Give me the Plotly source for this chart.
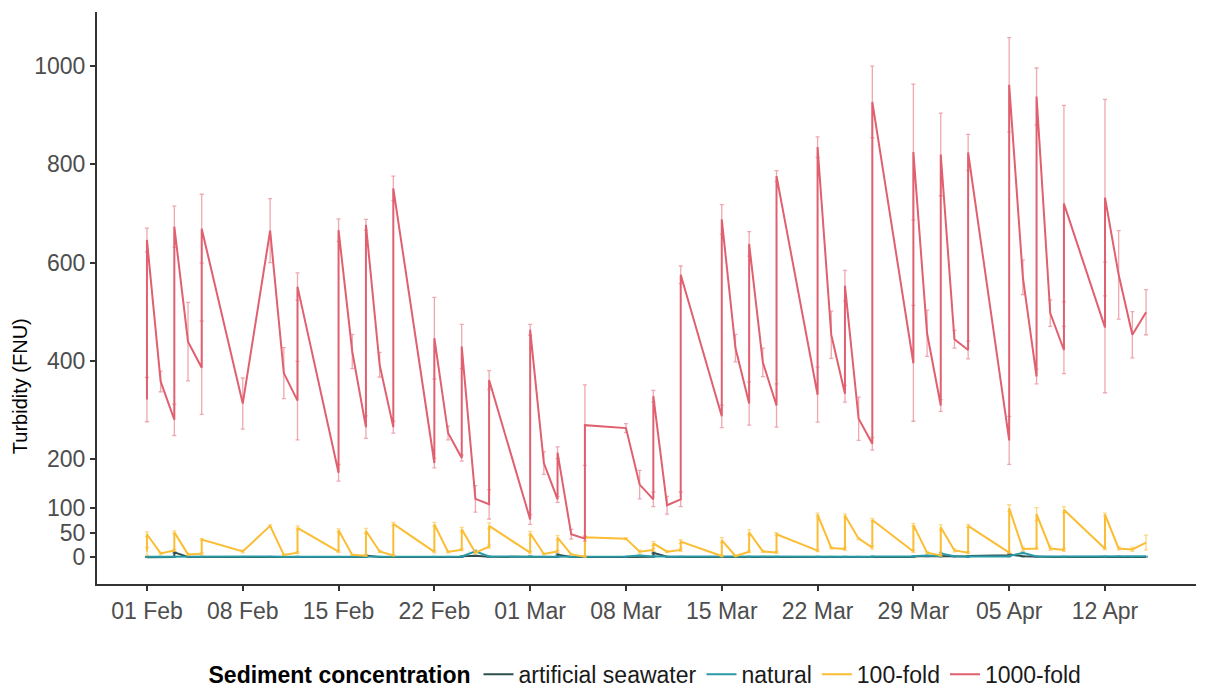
import plotly.graph_objects as go

sample_dates = [
    "2021-02-01", "2021-02-01", "2021-02-02", "2021-02-03", "2021-02-03", "2021-02-04",
    "2021-02-05", "2021-02-05", "2021-02-08", "2021-02-10", "2021-02-11", "2021-02-12",
    "2021-02-12", "2021-02-15", "2021-02-15", "2021-02-16", "2021-02-17", "2021-02-17",
    "2021-02-18", "2021-02-19", "2021-02-19", "2021-02-22", "2021-02-22", "2021-02-23",
    "2021-02-24", "2021-02-24", "2021-02-25", "2021-02-26", "2021-02-26", "2021-03-01",
    "2021-03-01", "2021-03-02", "2021-03-03", "2021-03-03", "2021-03-04", "2021-03-05",
    "2021-03-05", "2021-03-08", "2021-03-09", "2021-03-10", "2021-03-10", "2021-03-11",
    "2021-03-12", "2021-03-12", "2021-03-15", "2021-03-15", "2021-03-16", "2021-03-17",
    "2021-03-17", "2021-03-18", "2021-03-19", "2021-03-19", "2021-03-22", "2021-03-22",
    "2021-03-23", "2021-03-24", "2021-03-24", "2021-03-25", "2021-03-26", "2021-03-26",
    "2021-03-29", "2021-03-29", "2021-03-30", "2021-03-31", "2021-03-31", "2021-04-01",
    "2021-04-02", "2021-04-02", "2021-04-05", "2021-04-05", "2021-04-06", "2021-04-07",
    "2021-04-07", "2021-04-08", "2021-04-09", "2021-04-09", "2021-04-12", "2021-04-12",
    "2021-04-13", "2021-04-14", "2021-04-15",
]

artificial_vals = [
    0.4, 0.6, 0.5, 0.8, 10, 0.7, 0.5, 0.7, 0.5, 0.6, 0.5, 0.5, 1.0, 0.4, 0.7, 0.5, 0.6, 3.5,
    0.8, 0.5, 0.7, 0.4, 0.6, 0.5, 0.6, 2.0, 3.0, 1.0, 1.2, 0.6, 2.0, 0.5, 0.7, 5.5, 0.6, 0.5,
    0.8, 0.5, 1.5, 1.2, 9, 1.0, 0.6, 0.8, 0.5, 0.6, 0.5, 0.6, 0.8, 0.6, 0.5, 0.7, 0.5, 0.6,
    0.5, 0.5, 0.6, 0.5, 0.6, 1.0, 0.8, 1.5, 2.5, 2.0, 3.0, 2.0, 1.5, 2.5, 4.0, 6.0, 2.0, 0.8,
    1.0, 0.6, 0.5, 0.7, 0.5, 0.8, 1.5, 0.6, 0.8,
]
artificial_err = [
    0.3, 0.3, 0.3, 0.4, 1.5, 0.3, 0.3, 0.3, 0.3, 0.3, 0.3, 0.3, 0.5, 0.3, 0.3, 0.3, 0.3, 1.0,
    0.4, 0.3, 0.3, 0.3, 0.3, 0.3, 0.3, 0.8, 1.0, 0.5, 0.5, 0.3, 0.8, 0.3, 0.3, 1.5, 0.3, 0.3,
    0.3, 0.3, 0.6, 0.5, 1.5, 0.5, 0.3, 0.3, 0.3, 0.3, 0.3, 0.3, 0.3, 0.3, 0.3, 0.3, 0.3, 0.3,
    0.3, 0.3, 0.3, 0.3, 0.3, 0.5, 0.3, 0.6, 1.0, 0.8, 1.0, 0.8, 0.6, 1.0, 1.5, 2.0, 0.8, 0.3,
    0.5, 0.3, 0.3, 0.3, 0.3, 0.3, 0.6, 0.3, 0.3,
]

natural_vals = [
    1.2, 1.5, 1.4, 1.3, 1.6, 1.5, 1.4, 1.6, 1.5, 1.6, 1.4, 1.5, 1.7, 1.3, 1.5, 1.4, 1.3, 1.6,
    1.5, 1.4, 1.6, 1.3, 1.5, 1.4, 1.5, 1.8, 12, 1.6, 2.0, 1.4, 1.7, 1.5, 1.4, 1.8, 1.5, 1.4,
    1.6, 1.5, 3.5, 1.6, 2.0, 1.5, 1.4, 1.6, 1.3, 1.5, 1.4, 1.5, 1.7, 1.5, 1.4, 1.6, 1.4, 1.6,
    1.5, 1.4, 1.7, 1.5, 1.4, 1.8, 1.5, 2.5, 3.5, 2.5, 8, 2.0, 1.6, 1.8, 1.6, 2.5, 9, 1.8,
    2.0, 1.6, 1.5, 1.7, 1.5, 1.8, 2.5, 1.6, 2.0,
]
natural_err = [
    0.3, 0.3, 0.3, 0.3, 0.3, 0.3, 0.3, 0.3, 0.3, 0.3, 0.3, 0.3, 0.3, 0.3, 0.3, 0.3, 0.3, 0.3,
    0.3, 0.3, 0.3, 0.3, 0.3, 0.3, 0.3, 0.4, 2.5, 0.4, 0.5, 0.3, 0.3, 0.3, 0.3, 0.4, 0.3, 0.3,
    0.3, 0.3, 0.8, 0.3, 0.5, 0.3, 0.3, 0.3, 0.3, 0.3, 0.3, 0.3, 0.3, 0.3, 0.3, 0.3, 0.3, 0.3,
    0.3, 0.3, 0.3, 0.3, 0.3, 0.4, 0.3, 0.6, 0.8, 0.6, 2.0, 0.5, 0.4, 0.4, 0.4, 0.6, 2.0, 0.4,
    0.5, 0.4, 0.3, 0.4, 0.3, 0.4, 0.6, 0.4, 0.5,
]

fold100_vals = [
    12, 47, 8, 14, 51, 6, 7.5, 36, 12, 64, 5, 9.5, 60, 11.5, 55, 5, 3.4, 54, 12, 4, 68,
    11, 67, 11, 15.6, 57, 9.5, 21.7, 64, 9.5, 49, 6.8, 12, 40, 6, 1.4, 40.7, 38, 11.5,
    15, 28.5, 11.5, 15, 32, 2.7, 35, 2.7, 11.5, 51, 12, 10, 47, 13.6, 87, 19, 17, 85, 38,
    19.7, 76, 12, 66, 9.5, 4, 61, 14, 9.5, 64, 9.5, 100, 17, 18, 88, 18, 15, 97, 17.6, 87,
    18, 16, 30,
]
fold100_err = [
    8, 5, 2, 2, 3, 2, 2, 2, 3, 2, 1, 2, 4, 2, 3, 1, 1, 5, 2, 1, 3, 2, 4, 2, 2, 4, 2, 3, 6,
    2, 4, 1, 2, 4, 1, 1, 2, 2, 3, 3, 4, 2, 3, 4, 1, 5, 1, 2, 5, 2, 2, 3, 2, 3, 2, 3, 3, 2,
    3, 3, 2, 3, 2, 2, 5, 3, 2, 3, 2, 7, 4, 2, 13, 4, 3, 6, 2, 3, 3, 4, 15,
]

fold1000_vals = [
    321, 646, 358, 280, 673, 439, 386, 669, 313, 665, 375, 319, 551, 172, 666, 419, 265, 677,
    392, 265, 751, 192, 446, 253, 202, 429, 119, 108, 361, 77, 463, 192, 118, 213, 47, 38,
    269, 263, 148, 118, 328, 106, 118, 575, 287, 688, 426, 313, 638, 397, 309, 776, 331, 835,
    453, 333, 553, 282, 231, 927, 395, 825, 456, 309, 820, 444, 422, 824, 238, 962, 570, 368,
    938, 497, 422, 720, 468, 732, 575, 453, 499,
]
fold1000_err = [
    45, 24, 21, 32, 42, 80, 95, 70, 52, 65, 52, 80, 28, 17, 23, 35, 23, 11, 25, 12, 25, 10,
    83, 14, 6, 45, 27, 30, 19, 10, 11, 23, 6, 12, 10, 5, 82, 9, 29, 15, 12, 18, 15, 18, 23,
    30, 28, 44, 25, 29, 44, 11, 56, 21, 48, 17, 31, 44, 13, 73, 118, 138, 47, 12, 84, 18, 18,
    37, 49, 96, 35, 15, 58, 27, 48, 200, 133, 200, 90, 47, 46,
]

series = [
    ("artificial seawater", artificial_vals, artificial_err, "#2F4F4F", "rgba(47,79,79,0.55)"),
    ("natural", natural_vals, natural_err, "#2A9BA6", "rgba(42,155,166,0.55)"),
    ("100-fold", fold100_vals, fold100_err, "#FBBD33", "rgba(251,189,51,0.6)"),
    ("1000-fold", fold1000_vals, fold1000_err, "#E0606F", "rgba(224,96,111,0.55)"),
]

fig = go.Figure()
for name, vals, errs, col, ecol in series:
    fig.add_trace(go.Scatter(
        x=sample_dates, y=vals, name=name, mode="lines",
        line=dict(color=col, width=2),
        error_y=dict(type="data", array=errs, visible=True, color=ecol, thickness=1.3, width=2),
    ))

font_family = "Liberation Sans, Arial, sans-serif"
fig.update_layout(
    width=1205, height=692,
    margin=dict(l=97, r=9, t=12, b=108, autoexpand=False),
    paper_bgcolor="white", plot_bgcolor="white",
    font=dict(family=font_family, size=23, color="#000000"),
    showlegend=True,
    legend=dict(
        orientation="h", x=0.5, xanchor="center", y=-0.158, yanchor="middle",
        title=dict(text="<b>Sediment concentration</b>", font=dict(size=23, color="#000000")),
        font=dict(size=23, color="#1a1a1a"),
        itemwidth=30, tracegroupgap=0,
    ),
    xaxis=dict(
        type="date",
        range=["2021-01-28 08:24", "2021-04-18 15:36"],
        tickvals=["2021-02-01", "2021-02-08", "2021-02-15", "2021-02-22", "2021-03-01",
                  "2021-03-08", "2021-03-15", "2021-03-22", "2021-03-29", "2021-04-05",
                  "2021-04-12"],
        tickformat="%d %b",
        showgrid=False, zeroline=False,
        showline=True, linecolor="#333333", linewidth=2,
        ticks="outside", ticklen=5, tickwidth=1.5, tickcolor="#333333",
        tickfont=dict(size=23, color="#4D4D4D"),
    ),
    yaxis=dict(
        range=[-54.3, 1110],
        tickvals=[0, 50, 100, 200, 400, 600, 800, 1000],
        showgrid=False, zeroline=False,
        showline=True, linecolor="#333333", linewidth=2,
        ticks="outside", ticklen=5, tickwidth=1.5, tickcolor="#333333",
        tickfont=dict(size=23, color="#4D4D4D"),
    ),
    annotations=[dict(
        text="Turbidity (FNU)", textangle=-90, showarrow=False,
        xref="paper", yref="paper", x=-0.0705, y=0.345, xanchor="center", yanchor="middle",
        font=dict(size=20, color="#000000"),
    )],
)

fig.write_html("out.html")
